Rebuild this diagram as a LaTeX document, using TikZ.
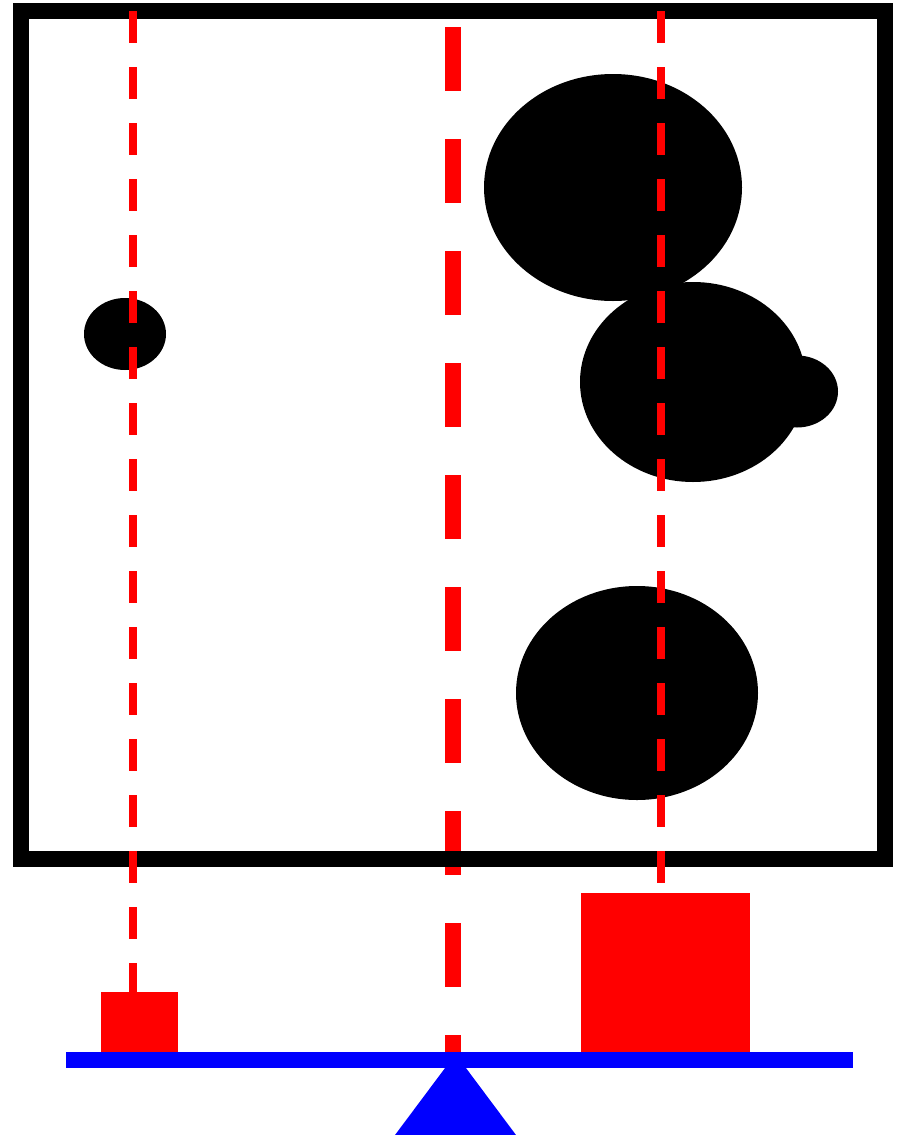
\documentclass[tikz,border=0pt]{standalone}
\usepackage{xcolor}
\usepackage{tikz}
\usetikzlibrary{calc}

\begin{document}
\begin{tikzpicture}[x=1pt, y=-1pt,
  box/.style={draw=black, line width=16pt},
  blob/.style={fill=black},
  plumb/.style={draw=red, line width=8pt, dash pattern=on 32pt off 24pt},
  pivotline/.style={draw=red, line width=16pt, dash pattern=on 64pt off 48pt},
  weight/.style={fill=red},
  beam/.style={fill=blue}]
  \useasboundingbox (0,0) rectangle (901,1135);
  % Centre line through the pivot (under the box)
  \draw[pivotline] (453,27) -- (453,1060);
  % The box
  \draw[box] (21,11) rectangle (885,859);
  % Masses inside the box
  \fill[blob] (125,334) ellipse [x radius=41, y radius=36];
  \fill[blob] (613,187.5) ellipse [x radius=129, y radius=113.5];
  \fill[blob] (693,382) ellipse [x radius=113, y radius=100];
  \fill[blob] (797,391.5) ellipse [x radius=41, y radius=36];
  \fill[blob] (637,693) ellipse [x radius=121, y radius=107];
  % Plumb lines of the two centres of mass
  \draw[plumb] (133,11) -- (133,995);
  \draw[plumb] (661,11) -- (661,883);
  % Weights on the beam
  \fill[weight] (101,992) rectangle (178,1052);
  \fill[weight] (581,893) rectangle (750,1052);
  % Beam and pivot
  \fill[beam] (66,1052) rectangle (853,1068);
  \fill[beam] (455.5,1054) -- (516,1135) -- (395,1135) -- cycle;
\end{tikzpicture}
\end{document}
